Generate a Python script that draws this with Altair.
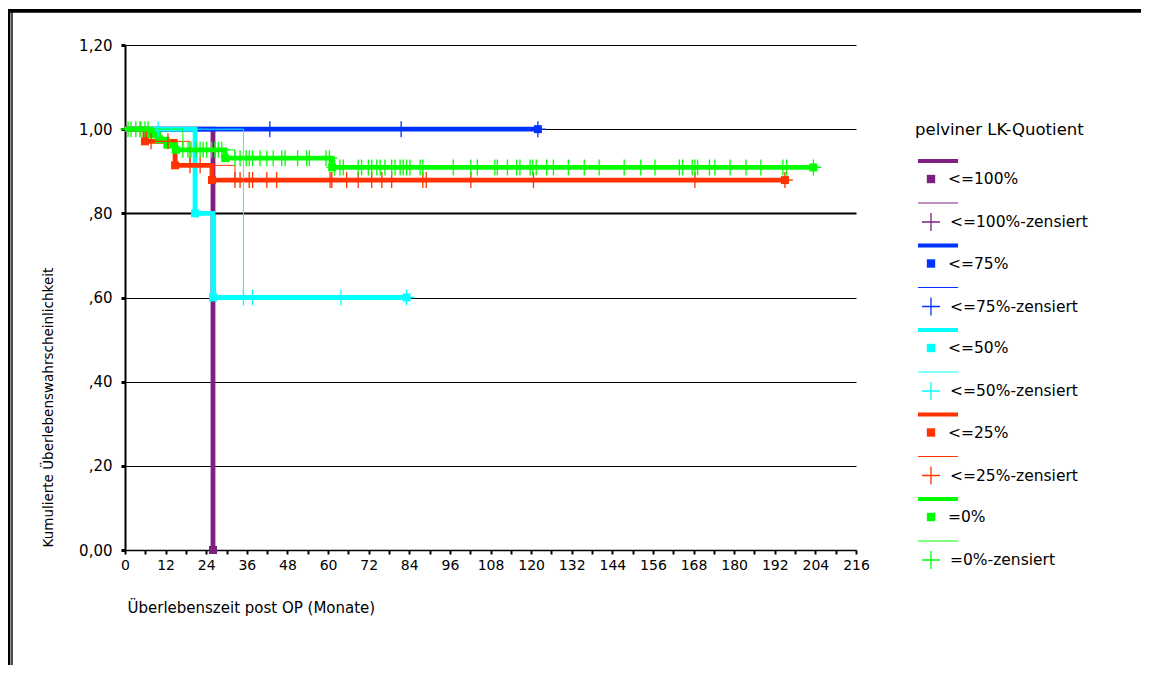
import altair as alt
import pandas as pd

# ---------------- data ----------------
groups = ["<=100%", "<=75%", "<=50%", "<=25%", "=0%"]
colors = ["#7F1F7F", "#0033FF", "#00FFFF", "#FF3300", "#00FF00"]

# Kaplan-Meier step points: time (months) and survival after the step
t_100 = [0.0, 26.0]
s_100 = [1.0, 0.0]
c_100 = []

t_75 = [0.0, 122.0]
s_75 = [1.0, 1.0]
c_75 = [42.8, 81.6, 122.0]

t_50 = [0.0, 20.7, 26.0, 83.2]
s_50 = [1.0, 0.8, 0.6, 0.6]
c_50 = [9.8, 35.0, 37.7, 63.8, 83.2]

t_25 = [0.0, 5.9, 14.8, 25.7, 195.0]
s_25 = [1.0, 0.971, 0.914, 0.879, 0.879]
c_25 = [7.7, 12.7, 19.2, 22.2, 32.5, 34.0, 36.7, 37.7, 41.9, 44.8, 60.6, 61.1,
        65.5, 68.9, 72.9, 75.9, 78.8, 88.0, 89.0, 102.2, 120.7, 168.4, 195.0]

t_0 = [0.0, 7.7, 10.0, 12.5, 15.0, 29.6, 61.2, 203.4]
s_0 = [1.0, 0.988, 0.976, 0.963, 0.951, 0.931, 0.909, 0.909]
c_0 = [0.9, 1.8, 3.2, 4.4, 4.7, 5.9, 6.8,
       17.1, 18.6, 19.5, 21.0, 22.2, 23.1, 24.1, 25.6, 26.6, 27.6, 28.6,
       32.5, 34.0, 35.8, 36.7, 37.7, 39.9, 41.9, 43.8, 46.3, 47.3, 51.0, 53.7,
       54.5, 59.4, 60.4,
       61.9, 63.5, 64.5, 68.9, 69.9, 71.9, 72.9, 74.4, 75.4, 76.8, 78.8, 79.8,
       81.3, 82.2, 83.2, 84.2, 87.2, 88.0, 97.0, 102.2, 104.1, 109.3, 110.0,
       113.0, 115.7, 116.7, 119.7, 120.5, 121.5, 124.6, 126.6, 131.0, 135.7,
       140.1, 147.5, 152.4, 156.6, 163.8, 164.8, 167.6, 168.4, 169.2, 172.7,
       174.3, 178.8, 183.5, 187.9, 194.4, 195.5, 203.4]

x_ticks = list(range(0, 217, 6))
y_ticks = [0.0, 0.2, 0.4, 0.6, 0.8, 1.0, 1.2]

legend_title = "pelviner LK-Quotient"
x_title = "Überlebenszeit post OP (Monate)"
y_title = "Kumulierte Überlebenswahrscheinlichkeit"

series = [
    (t_100, s_100, c_100),
    (t_75, s_75, c_75),
    (t_50, s_50, c_50),
    (t_25, s_25, c_25),
    (t_0, s_0, c_0),
]

# ---------------- helpers ----------------
def surv_at(ts, ss, t):
    v = ss[0]
    for ti, si in zip(ts, ss):
        if ti <= t:
            v = si
    return v

FONT = "DejaVu Sans"
W, H = 731, 505
CROSS = "M-1,0L1,0M0,-1L0,1"

x_scale = alt.Scale(domain=[0, 216], nice=False, zero=False)
y_scale = alt.Scale(domain=[0, 1.2], nice=False, zero=True)

ax_x = alt.Axis(
    title=x_title, values=x_ticks, grid=False,
    labelExpr="datum.value % 12 == 0 ? datum.label : ''",
    domainColor="black", domainWidth=1.5, tickColor="black", tickSize=4, tickWidth=2,
    labelFont=FONT, labelFontSize=14, labelColor="black", labelPadding=4,
    titleFont=FONT, titleFontSize=15, titleFontWeight="normal", titleColor="black",
    titleX=2, titleY=57, titleAlign="left", titleBaseline="middle", labelFlush=False,
)
ax_y = alt.Axis(
    title=y_title, values=y_ticks, grid=True, gridColor="black",
    gridWidth={"condition": {"test": "abs(datum.value - 0.8) < 0.001", "value": 2.2}, "value": 1},
    labelExpr="datum.value == 0 ? '0,00' : (datum.value < 1 ? ',' + format(datum.value * 100, '.0f') : replace(format(datum.value, '.2f'), '.', ','))",
    domainColor="black", domainWidth=2, tickColor="black", tickSize=4, tickWidth=3,
    labelFont=FONT, labelFontSize=15, labelColor="black", labelPadding=9,
    titleFont=FONT, titleFontSize=13.5, titleFontWeight="normal", titleColor="black",
    titleAngle=-90, titleX=-77, titleY=502, titleAlign="left", titleBaseline="middle",
)

X = alt.X("t:Q", scale=x_scale, axis=ax_x)
Y = alt.Y("s:Q", scale=y_scale, axis=ax_y)

thick_layers, square_layers, cens_layers = [], [], []
for g, col, (ts, ss, cs) in zip(groups, colors, series):
    dfc = pd.DataFrame({"t": ts, "s": ss})
    thick_layers.append(
        alt.Chart(dfc).mark_line(interpolate="step-after", strokeWidth=4.8, color=col)
        .encode(x=X, y=Y)
    )
    dfs = dfc.iloc[1:]
    square_layers.append(
        alt.Chart(dfs).mark_square(size=64, filled=True, opacity=1, color=col)
        .encode(x=X, y=Y)
    )
    if cs:
        dfz = pd.DataFrame({"t": cs, "s": [surv_at(ts, ss, c) for c in cs]})
        cens_layers.append(
            alt.Chart(dfz).mark_line(interpolate="step-after", strokeWidth=1, color=col)
            .encode(x=X, y=Y)
        )
        cens_layers.append(
            alt.Chart(dfz).mark_point(shape=CROSS, size=256, filled=False,
                                      strokeWidth=1.3, opacity=1, color=col)
            .encode(x=X, y=Y)
        )

# ---------------- legend (own pixel layout to the right of the plot) ----------------
LX0, LX1, LSYM, LTXT = 793, 833, 806, 823
rows_line, rows_sym, rows_txt = [], [], []
for i, (g, col) in enumerate(zip(groups, colors)):
    base = 116 + 84.5 * i
    rows_line.append({"x": LX0, "x2": LX1, "y": base, "c": col, "w": 4})
    rows_line.append({"x": LX0, "x2": LX1, "y": base + 42, "c": col, "w": 1})
    rows_sym.append({"x": LSYM, "y": base + 18, "c": col, "k": "sq"})
    rows_sym.append({"x": LSYM, "y": base + 61, "c": col, "k": "cr"})
    rows_txt.append({"x": LTXT, "y": base + 18, "txt": g, "fs": 15.5})
    rows_txt.append({"x": LTXT + 2, "y": base + 61, "txt": g + "-zensiert", "fs": 15.5})
rows_txt.append({"x": 790, "y": 85, "txt": legend_title, "fs": 16.5})

dl = pd.DataFrame(rows_line)
ds = pd.DataFrame(rows_sym)
dt = pd.DataFrame(rows_txt)

LXe = alt.X("x:Q", scale=None, axis=None)
LYe = alt.Y("y:Q", scale=None, axis=None)

leg_lines = alt.Chart(dl).mark_rule().encode(
    x=LXe, x2="x2:Q", y=LYe,
    color=alt.Color("c:N", scale=None), strokeWidth=alt.StrokeWidth("w:Q", scale=None))
leg_sq = alt.Chart(ds).transform_filter("datum.k == 'sq'").mark_square(
    size=70, filled=True, opacity=1).encode(x=LXe, y=LYe, color=alt.Color("c:N", scale=None))
leg_cr = alt.Chart(ds).transform_filter("datum.k == 'cr'").mark_point(
    shape=CROSS, size=324, filled=False, strokeWidth=1.3, opacity=1).encode(
    x=LXe, y=LYe, color=alt.Color("c:N", scale=None))
leg_txt = alt.Chart(dt).mark_text(align="left", baseline="middle", font=FONT,
                                  color="black").encode(
    x=LXe, y=LYe, text="txt:N", size=alt.Size("fs:Q", scale=None))

# ---------------- outer frame ----------------
one = alt.Data(values=[{}])
frame_top = alt.Chart(one).mark_rule(color="black", strokeWidth=3.6).encode(
    x=alt.value(-117), x2=alt.value(1030), y=alt.value(-34.1))
frame_l1 = alt.Chart(one).mark_rule(color="black", strokeWidth=2.4).encode(
    x=alt.value(-115.8), y=alt.value(-36), y2=alt.value(640))
frame_l2 = alt.Chart(one).mark_rule(color="black", strokeWidth=1.4).encode(
    x=alt.value(-113), y=alt.value(-36), y2=alt.value(640))

chart = alt.layer(
    *thick_layers, *square_layers, *cens_layers,
    leg_lines, leg_sq, leg_cr, leg_txt,
    frame_top, frame_l1, frame_l2,
).properties(
    width=W, height=H,
    padding={"left": 117, "top": 37, "right": 285, "bottom": 115},
    autosize=alt.AutoSizeParams(type="none"),
    background="white",
).configure_view(stroke=None)

chart.save("out.html", embed_options={"renderer": "svg", "actions": False})
